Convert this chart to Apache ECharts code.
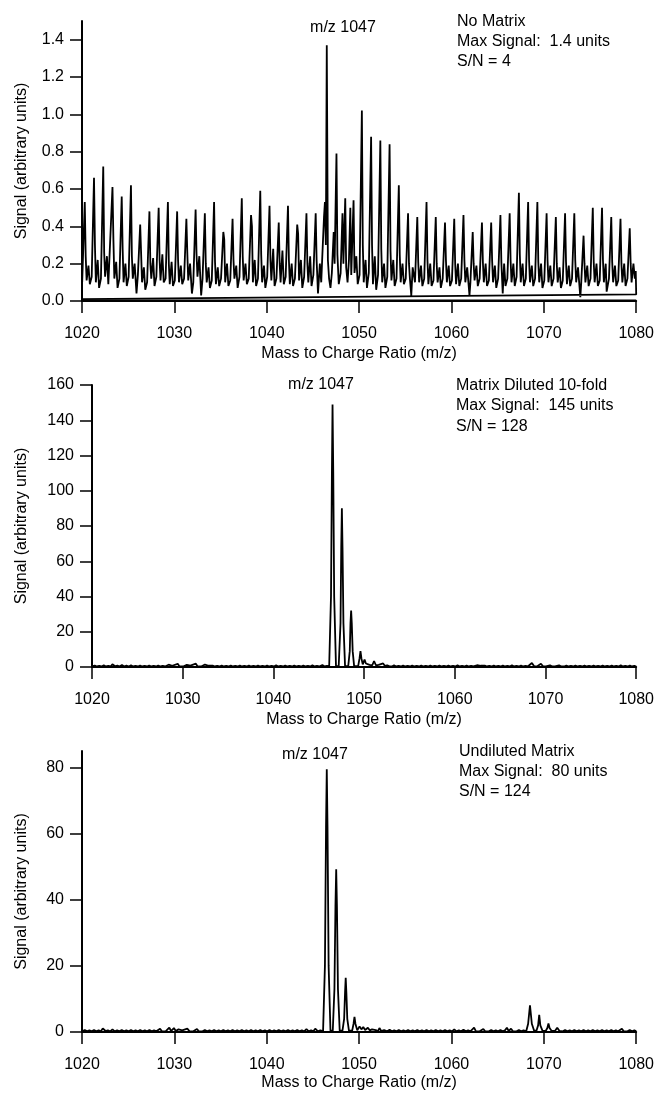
<!DOCTYPE html>
<html>
<head>
<meta charset="utf-8">
<script src="https://cdn.jsdelivr.net/npm/echarts@6/dist/echarts.min.js"></script>
<style>html,body{margin:0;padding:0;background:#fff;}#c{width:657px;height:1093px;}</style>
</head>
<body>
<div id="c"></div>
<script>
// ---------- DATA ----------
var xTicks = [1020, 1030, 1040, 1050, 1060, 1070, 1080];
var p1Ticks = [0, 0.2, 0.4, 0.6, 0.8, 1.0, 1.2, 1.4];
var p2Ticks = [0, 20, 40, 60, 80, 100, 120, 140, 160];
var p3Ticks = [0, 20, 40, 60, 80];

var p1Labels = ["m/z 1047", "No Matrix", "Max Signal:  1.4 units", "S/N = 4"];
var p2Labels = ["m/z 1047", "Matrix Diluted 10-fold", "Max Signal:  145 units", "S/N = 128"];
var p3Labels = ["m/z 1047", "Undiluted Matrix", "Max Signal:  80 units", "S/N = 124"];
var xTitle = "Mass to Charge Ratio (m/z)";
var yTitle = "Signal (arbitrary units)";

// Panel 1: No Matrix (m/z, signal)
var p1Signal = [
[1020.02,0.1],[1020.3,0.53],[1020.4,0.24],[1020.5,0.11],[1020.7,0.19],[1020.85,0.09],
[1021.05,0.13],[1021.3,0.66],[1021.4,0.3],[1021.5,0.1],[1021.7,0.22],[1021.85,0.07],
[1022.05,0.12],[1022.3,0.72],[1022.4,0.26],[1022.5,0.13],[1022.7,0.24],[1022.85,0.09],
[1023.05,0.08],[1023.3,0.61],[1023.4,0.33],[1023.5,0.12],[1023.7,0.21],[1023.85,0.07],
[1024.05,0.12],[1024.3,0.56],[1024.4,0.28],[1024.5,0.1],[1024.7,0.2],[1024.85,0.08],
[1025.05,0.13],[1025.3,0.62],[1025.4,0.24],[1025.5,0.12],[1025.7,0.2],[1025.9,0.04],
[1026.05,0.14],[1026.3,0.41],[1026.4,0.4],[1026.5,0.1],[1026.7,0.18],[1026.85,0.06],
[1027.05,0.1],[1027.3,0.48],[1027.4,0.2],[1027.5,0.12],[1027.7,0.23],[1027.85,0.08],
[1028.05,0.13],[1028.3,0.5],[1028.4,0.22],[1028.5,0.11],[1028.7,0.25],[1028.85,0.1],
[1029.05,0.12],[1029.3,0.53],[1029.4,0.2],[1029.5,0.09],[1029.7,0.21],[1029.85,0.08],
[1030.05,0.11],[1030.3,0.48],[1030.4,0.22],[1030.5,0.1],[1030.7,0.19],[1030.85,0.09],
[1031.05,0.12],[1031.3,0.44],[1031.4,0.26],[1031.5,0.11],[1031.7,0.2],[1031.9,0.04],
[1032.05,0.1],[1032.3,0.49],[1032.4,0.25],[1032.5,0.13],[1032.7,0.24],[1032.9,0.03],
[1033.05,0.12],[1033.3,0.47],[1033.4,0.2],[1033.5,0.1],[1033.7,0.18],[1033.85,0.07],
[1034.05,0.11],[1034.3,0.53],[1034.4,0.21],[1034.5,0.09],[1034.7,0.18],[1034.85,0.08],
[1035.05,0.12],[1035.3,0.37],[1035.4,0.33],[1035.5,0.1],[1035.7,0.2],[1035.85,0.08],
[1036.05,0.11],[1036.3,0.44],[1036.4,0.22],[1036.5,0.12],[1036.7,0.19],[1036.85,0.07],
[1037.05,0.13],[1037.3,0.55],[1037.4,0.24],[1037.5,0.11],[1037.7,0.2],[1037.85,0.09],
[1038.05,0.12],[1038.3,0.46],[1038.4,0.4],[1038.5,0.1],[1038.7,0.22],[1038.85,0.08],
[1039.05,0.12],[1039.3,0.59],[1039.4,0.25],[1039.5,0.1],[1039.7,0.19],[1039.85,0.07],
[1040.05,0.13],[1040.3,0.51],[1040.4,0.22],[1040.5,0.11],[1040.7,0.28],[1040.85,0.08],
[1041.05,0.12],[1041.3,0.42],[1041.4,0.2],[1041.5,0.1],[1041.7,0.27],[1041.85,0.09],
[1042.05,0.13],[1042.3,0.51],[1042.4,0.22],[1042.5,0.09],[1042.7,0.2],[1042.85,0.08],
[1043.05,0.12],[1043.3,0.41],[1043.4,0.36],[1043.5,0.11],[1043.7,0.22],[1043.85,0.07],
[1044.05,0.13],[1044.3,0.47],[1044.4,0.2],[1044.5,0.1],[1044.7,0.24],[1044.85,0.08],
[1045.05,0.14],[1045.3,0.47],[1045.4,0.22],[1045.55,0.04],[1045.75,0.2],[1045.9,0.1],
[1046.0,0.22],[1046.2,0.45],[1046.3,0.53],[1046.4,0.3],[1046.5,1.37],[1046.62,0.22],[1046.75,0.12],[1046.9,0.07],
[1047.05,0.15],[1047.25,0.37],[1047.35,0.2],[1047.55,0.79],[1047.65,0.25],[1047.8,0.09],
[1048.0,0.15],[1048.2,0.47],[1048.3,0.2],[1048.5,0.55],[1048.6,0.18],[1048.75,0.1],[1048.9,0.22],
[1049.05,0.5],[1049.15,0.14],[1049.4,0.54],[1049.5,0.15],[1049.7,0.24],[1049.85,0.09],
[1050.05,0.14],[1050.3,1.02],[1050.4,0.3],[1050.5,0.1],[1050.7,0.22],[1050.85,0.07],
[1051.05,0.15],[1051.3,0.88],[1051.4,0.3],[1051.5,0.09],[1051.7,0.24],[1051.85,0.06],
[1052.05,0.14],[1052.3,0.86],[1052.4,0.28],[1052.5,0.1],[1052.7,0.2],[1052.85,0.07],
[1053.05,0.13],[1053.3,0.84],[1053.4,0.27],[1053.5,0.11],[1053.7,0.22],[1053.85,0.08],
[1054.05,0.12],[1054.3,0.62],[1054.4,0.25],[1054.5,0.1],[1054.7,0.2],[1054.85,0.09],
[1055.05,0.12],[1055.3,0.47],[1055.4,0.2],[1055.5,0.12],[1055.65,0.03],[1055.8,0.18],
[1056.05,0.1],[1056.3,0.45],[1056.4,0.21],[1056.5,0.1],[1056.7,0.19],[1056.85,0.08],
[1057.05,0.12],[1057.3,0.53],[1057.4,0.22],[1057.5,0.09],[1057.7,0.2],[1057.85,0.08],
[1058.05,0.11],[1058.3,0.45],[1058.4,0.2],[1058.5,0.1],[1058.7,0.18],[1058.85,0.07],
[1059.05,0.12],[1059.3,0.42],[1059.4,0.22],[1059.5,0.1],[1059.7,0.19],[1059.85,0.08],
[1060.05,0.11],[1060.3,0.44],[1060.4,0.2],[1060.5,0.09],[1060.7,0.2],[1060.85,0.08],
[1061.05,0.12],[1061.3,0.46],[1061.4,0.22],[1061.5,0.1],[1061.7,0.18],[1061.95,0.03],
[1062.05,0.1],[1062.3,0.37],[1062.4,0.2],[1062.5,0.11],[1062.7,0.19],[1062.85,0.08],
[1063.05,0.12],[1063.3,0.42],[1063.4,0.21],[1063.5,0.1],[1063.7,0.2],[1063.85,0.08],
[1064.05,0.11],[1064.3,0.42],[1064.4,0.22],[1064.5,0.1],[1064.7,0.19],[1064.85,0.07],
[1065.05,0.12],[1065.3,0.46],[1065.4,0.21],[1065.55,0.04],[1065.7,0.2],[1065.85,0.08],
[1066.05,0.12],[1066.3,0.47],[1066.4,0.22],[1066.5,0.1],[1066.7,0.2],[1066.85,0.08],
[1067.05,0.13],[1067.3,0.58],[1067.4,0.25],[1067.5,0.1],[1067.7,0.2],[1067.85,0.08],
[1068.05,0.12],[1068.3,0.53],[1068.4,0.22],[1068.5,0.1],[1068.7,0.19],[1068.85,0.08],
[1069.05,0.12],[1069.3,0.53],[1069.4,0.21],[1069.5,0.1],[1069.7,0.2],[1069.85,0.07],
[1070.05,0.11],[1070.3,0.47],[1070.4,0.22],[1070.5,0.1],[1070.7,0.19],[1070.85,0.08],
[1071.05,0.12],[1071.3,0.45],[1071.4,0.2],[1071.5,0.1],[1071.7,0.18],[1071.85,0.07],
[1072.05,0.11],[1072.3,0.47],[1072.4,0.21],[1072.5,0.09],[1072.7,0.19],[1072.85,0.08],
[1073.05,0.12],[1073.3,0.47],[1073.4,0.22],[1073.5,0.1],[1073.7,0.18],[1073.95,0.02],
[1074.05,0.1],[1074.3,0.35],[1074.4,0.2],[1074.5,0.1],[1074.7,0.19],[1074.85,0.08],
[1075.05,0.12],[1075.3,0.5],[1075.4,0.21],[1075.5,0.1],[1075.7,0.2],[1075.85,0.08],
[1076.05,0.11],[1076.3,0.5],[1076.4,0.22],[1076.5,0.1],[1076.7,0.2],[1076.8,0.05],
[1077.05,0.12],[1077.3,0.45],[1077.4,0.21],[1077.5,0.1],[1077.7,0.19],[1077.85,0.08],
[1078.05,0.11],[1078.3,0.44],[1078.4,0.2],[1078.5,0.1],[1078.7,0.2],[1078.85,0.08],
[1079.05,0.12],[1079.3,0.39],[1079.4,0.2],[1079.5,0.1],[1079.7,0.2],[1079.85,0.12],[1079.95,0.16],
[1080.0,0.035],[1020.0,0.01]
];
var p1Zero = [[1020, 0.004], [1080, 0.004]];

// Panel 2: Matrix Diluted 10-fold
var p2Signal = [
[1020.0,0.3],[1020.3,0.8],[1020.55,0.3],[1020.8,0.7],
[1021.05,0.3],[1021.3,0.9],[1021.55,0.3],[1021.8,0.7],
[1022.05,0.3],[1022.25,1.5],[1022.55,0.4],[1022.8,0.8],
[1023.05,0.3],[1023.3,1.2],[1023.55,0.3],[1023.8,0.8],
[1024.05,0.3],[1024.3,0.9],[1024.55,0.3],[1024.8,0.7],
[1025.05,0.3],[1025.3,0.8],[1025.55,0.3],[1025.8,0.7],
[1026.05,0.3],[1026.3,0.8],[1026.55,0.3],[1026.8,0.7],
[1027.05,0.3],[1027.3,0.8],[1027.55,0.3],[1027.8,0.7],
[1028.05,0.3],[1028.45,1.3],[1028.65,0.3],[1028.85,0.7],
[1029.05,0.3],[1029.45,1.8],[1029.65,0.3],[1029.85,0.8],
[1030.05,0.3],[1030.45,1.2],[1030.65,0.3],[1030.85,0.8],
[1031.05,0.3],[1031.45,1.9],[1031.65,0.3],[1031.85,0.8],
[1032.05,0.3],[1032.45,1.4],[1032.65,0.3],[1032.85,0.7],
[1033.05,0.3],[1033.3,0.8],[1033.55,0.3],[1033.8,0.7],
[1034.05,0.3],[1034.3,0.8],[1034.55,0.3],[1034.8,0.7],
[1035.05,0.3],[1035.3,0.8],[1035.55,0.3],[1035.8,0.7],
[1036.05,0.3],[1036.3,0.8],[1036.55,0.3],[1036.8,0.7],
[1037.05,0.3],[1037.3,0.8],[1037.55,0.3],[1037.8,0.7],
[1038.05,0.3],[1038.3,0.8],[1038.55,0.3],[1038.8,0.7],
[1039.05,0.3],[1039.3,0.8],[1039.55,0.3],[1039.8,0.7],
[1040.05,0.3],[1040.3,0.9],[1040.55,0.3],[1040.8,0.7],
[1041.05,0.3],[1041.3,0.8],[1041.55,0.3],[1041.8,0.7],
[1042.05,0.3],[1042.3,0.8],[1042.55,0.3],[1042.8,0.7],
[1043.05,0.3],[1043.3,0.8],[1043.55,0.3],[1043.8,0.7],
[1044.05,0.3],[1044.3,0.9],[1044.55,0.3],[1044.8,0.7],
[1045.05,0.3],[1045.4,1.1],[1045.65,0.3],[1045.9,0.6],
[1046.15,0.5],[1046.35,40],[1046.45,110],[1046.52,149],[1046.6,110],[1046.7,40],[1046.9,0.5],
[1047.2,0.5],[1047.4,25],[1047.48,68],[1047.55,90],[1047.62,68],[1047.72,25],[1047.9,0.5],
[1048.25,0.5],[1048.42,9],[1048.5,25],[1048.57,32],[1048.64,25],[1048.74,9],[1048.9,0.5],
[1049.35,0.6],[1049.5,5],[1049.6,9],[1049.7,5],[1049.85,1.5],[1050.05,4.2],[1050.2,2],
[1050.4,3],[1050.6,1.2],[1050.75,2],[1050.9,1],[1051.1,3.4],[1051.3,1],[1051.6,1.2],[1051.8,0.6],
[1052.1,2],[1052.3,0.6],[1052.55,1.0],[1052.8,0.4],
[1053.05,0.3],[1053.3,0.9],[1053.55,0.3],[1053.8,0.7],
[1054.05,0.3],[1054.3,0.8],[1054.55,0.3],[1054.8,0.7],
[1055.05,0.3],[1055.3,0.8],[1055.55,0.3],[1055.8,0.7],
[1056.05,0.3],[1056.3,0.8],[1056.55,0.3],[1056.8,0.7],
[1057.05,0.3],[1057.3,0.8],[1057.55,0.3],[1057.8,0.7],
[1058.05,0.3],[1058.3,0.8],[1058.55,0.3],[1058.8,0.7],
[1059.05,0.3],[1059.3,0.8],[1059.55,0.3],[1059.8,0.7],
[1060.05,0.3],[1060.3,0.9],[1060.55,0.3],[1060.8,0.7],
[1061.05,0.3],[1061.3,0.8],[1061.55,0.3],[1061.8,0.7],
[1062.05,0.3],[1062.45,1.0],[1062.65,0.3],[1062.85,0.7],
[1063.05,0.3],[1063.3,0.8],[1063.55,0.3],[1063.8,0.7],
[1064.05,0.3],[1064.3,0.8],[1064.55,0.3],[1064.8,0.7],
[1065.05,0.3],[1065.3,0.8],[1065.55,0.3],[1065.8,0.7],
[1066.05,0.3],[1066.3,0.9],[1066.55,0.3],[1066.8,0.7],
[1067.05,0.3],[1067.3,0.8],[1067.55,0.3],[1067.8,0.7],
[1068.05,0.3],[1068.5,2.3],[1068.75,0.4],[1068.9,0.7],
[1069.05,0.3],[1069.5,1.8],[1069.75,0.3],[1069.9,0.6],
[1070.05,0.3],[1070.5,1.0],[1070.75,0.3],[1070.9,0.6],
[1071.05,0.3],[1071.5,0.9],[1071.75,0.3],[1071.9,0.6],
[1072.05,0.3],[1072.3,0.8],[1072.55,0.3],[1072.8,0.7],
[1073.05,0.3],[1073.3,0.8],[1073.55,0.3],[1073.8,0.7],
[1074.05,0.3],[1074.3,0.8],[1074.55,0.3],[1074.8,0.7],
[1075.05,0.3],[1075.3,0.8],[1075.55,0.3],[1075.8,0.7],
[1076.05,0.3],[1076.3,0.8],[1076.55,0.3],[1076.8,0.7],
[1077.05,0.3],[1077.3,0.8],[1077.55,0.3],[1077.8,0.7],
[1078.05,0.3],[1078.3,0.9],[1078.55,0.3],[1078.8,0.7],
[1079.05,0.3],[1079.3,0.8],[1079.55,0.3],[1079.8,0.7],[1080.0,0.3]
];

// Panel 3: Undiluted Matrix
var p3Signal = [
[1020.0,0.2],[1020.3,0.6],[1020.55,0.2],[1020.8,0.5],
[1021.05,0.2],[1021.3,0.6],[1021.55,0.2],[1021.8,0.5],
[1022.05,0.2],[1022.25,1.1],[1022.55,0.3],[1022.8,0.5],
[1023.05,0.2],[1023.3,0.8],[1023.55,0.2],[1023.8,0.5],
[1024.05,0.2],[1024.3,0.6],[1024.55,0.2],[1024.8,0.5],
[1025.05,0.2],[1025.3,0.6],[1025.55,0.2],[1025.8,0.5],
[1026.05,0.2],[1026.3,0.6],[1026.55,0.2],[1026.8,0.5],
[1027.05,0.2],[1027.3,0.6],[1027.55,0.2],[1027.8,0.5],
[1028.05,0.2],[1028.45,1.0],[1028.65,0.2],[1028.85,0.5],
[1029.05,0.2],[1029.45,1.3],[1029.65,0.3],[1029.95,1.2],
[1030.15,0.3],[1030.45,0.8],[1030.65,0.2],[1030.85,0.5],
[1031.05,0.2],[1031.4,1.0],[1031.65,0.2],[1031.85,0.5],
[1032.05,0.2],[1032.45,0.9],[1032.65,0.2],[1032.85,0.5],
[1033.05,0.2],[1033.3,0.6],[1033.55,0.2],[1033.8,0.5],
[1034.05,0.2],[1034.3,0.6],[1034.55,0.2],[1034.8,0.5],
[1035.05,0.2],[1035.3,0.6],[1035.55,0.2],[1035.8,0.5],
[1036.05,0.2],[1036.3,0.6],[1036.55,0.2],[1036.8,0.5],
[1037.05,0.2],[1037.3,0.6],[1037.55,0.2],[1037.8,0.5],
[1038.05,0.2],[1038.3,0.6],[1038.55,0.2],[1038.8,0.5],
[1039.05,0.2],[1039.3,0.6],[1039.55,0.2],[1039.8,0.5],
[1040.05,0.2],[1040.3,0.6],[1040.55,0.2],[1040.8,0.5],
[1041.05,0.2],[1041.3,0.6],[1041.55,0.2],[1041.8,0.5],
[1042.05,0.2],[1042.3,0.6],[1042.55,0.2],[1042.8,0.5],
[1043.05,0.2],[1043.3,0.6],[1043.55,0.2],[1043.8,0.5],
[1044.05,0.2],[1044.3,0.9],[1044.55,0.2],[1044.8,0.5],
[1045.05,0.2],[1045.25,1.0],[1045.55,0.2],[1045.8,0.5],
[1046.1,0.3],[1046.3,20],[1046.42,62],[1046.5,79.5],[1046.58,62],[1046.7,20],[1046.9,0.4],
[1047.15,0.4],[1047.33,13],[1047.44,38],[1047.52,49.2],[1047.6,38],[1047.71,13],[1047.9,0.4],
[1048.2,0.4],[1048.38,4],[1048.48,12],[1048.55,16.4],[1048.62,12],[1048.72,4],[1048.9,0.4],
[1049.25,0.4],[1049.4,2.5],[1049.5,4.6],[1049.6,2.5],[1049.8,0.5],
[1050.05,1.7],[1050.25,0.8],[1050.45,1.5],[1050.65,0.6],[1050.95,1.3],[1051.15,0.5],[1051.4,0.8],
[1051.6,0.3],[1051.8,0.6],[1052.05,0.3],[1052.2,1.2],[1052.4,0.3],[1052.7,0.6],
[1053.05,0.2],[1053.3,0.7],[1053.55,0.2],[1053.8,0.5],
[1054.05,0.2],[1054.3,0.6],[1054.55,0.2],[1054.8,0.5],
[1055.05,0.2],[1055.3,0.6],[1055.55,0.2],[1055.8,0.5],
[1056.05,0.2],[1056.3,0.6],[1056.55,0.2],[1056.8,0.5],
[1057.05,0.2],[1057.3,0.6],[1057.55,0.2],[1057.8,0.5],
[1058.05,0.2],[1058.3,0.6],[1058.55,0.2],[1058.8,0.5],
[1059.05,0.2],[1059.3,0.6],[1059.55,0.2],[1059.8,0.5],
[1060.05,0.2],[1060.3,0.8],[1060.55,0.2],[1060.8,0.5],
[1061.05,0.2],[1061.3,0.7],[1061.55,0.2],[1061.8,0.5],
[1062.05,0.2],[1062.45,1.3],[1062.65,0.2],[1062.85,0.5],
[1063.05,0.2],[1063.45,0.9],[1063.65,0.2],[1063.85,0.5],
[1064.05,0.2],[1064.3,0.6],[1064.55,0.2],[1064.8,0.5],
[1065.05,0.2],[1065.3,0.6],[1065.55,0.2],[1065.8,0.5],
[1066.0,1.3],[1066.2,0.3],[1066.45,1.0],[1066.65,0.2],[1066.85,0.6],
[1067.05,0.2],[1067.3,0.6],[1067.55,0.2],[1067.8,0.5],
[1068.1,0.3],[1068.3,2.5],[1068.5,8.1],[1068.7,2.5],[1068.95,0.4],
[1069.2,0.4],[1069.38,2],[1069.5,5.2],[1069.62,2],[1069.85,0.4],
[1070.2,0.3],[1070.38,1.2],[1070.5,2.6],[1070.62,1.2],[1070.85,0.3],
[1071.2,0.3],[1071.45,1.3],[1071.7,0.3],[1071.9,0.5],
[1072.05,0.2],[1072.3,0.6],[1072.55,0.2],[1072.8,0.5],
[1073.05,0.2],[1073.3,0.6],[1073.55,0.2],[1073.8,0.5],
[1074.05,0.2],[1074.3,0.6],[1074.55,0.2],[1074.8,0.5],
[1075.05,0.2],[1075.3,0.6],[1075.55,0.2],[1075.8,0.5],
[1076.05,0.2],[1076.3,0.6],[1076.55,0.2],[1076.8,0.5],
[1077.05,0.2],[1077.3,0.6],[1077.55,0.2],[1077.8,0.5],
[1078.05,0.2],[1078.45,1.0],[1078.65,0.2],[1078.85,0.5],
[1079.05,0.2],[1079.3,0.6],[1079.55,0.2],[1079.8,0.5],[1080.0,0.2]
];

// ---------- CHART ----------
var FONT = '"Liberation Sans", Arial, Helvetica, sans-serif';
var chart = echarts.init(document.getElementById('c'), null, {renderer: 'canvas'});

function xAxisCfg(idx, gap) {
  return {
    type: 'value', gridIndex: idx, min: 1020, max: 1080, interval: 10,
    name: xTitle, nameLocation: 'middle', nameGap: gap,
    nameTextStyle: {fontFamily: FONT, fontSize: 16, color: '#000'},
    axisLine: {show: true, onZero: false, lineStyle: {color: '#000', width: 2}},
    axisTick: {show: true, inside: false, length: 12, lineStyle: {color: '#000', width: 1.5}, customValues: xTicks},
    axisLabel: {fontFamily: FONT, fontSize: 16, color: '#000', margin: 25, customValues: xTicks,
      formatter: function (v) { return String(v); }},
    splitLine: {show: false}
  };
}
function yAxisCfg(idx, max, ticks, gap, dec) {
  return {
    type: 'value', gridIndex: idx, min: 0, max: max,
    name: yTitle, nameLocation: 'middle', nameGap: gap,
    nameTextStyle: {fontFamily: FONT, fontSize: 16, color: '#000'},
    axisLine: {show: true, onZero: false, lineStyle: {color: '#000', width: 2}},
    axisTick: {show: true, inside: false, length: 12, lineStyle: {color: '#000', width: 1.5}, customValues: ticks},
    axisLabel: {fontFamily: FONT, fontSize: 16, color: '#000', margin: 18, customValues: ticks,
      formatter: function (v) { return dec ? v.toFixed(1) : String(v); }},
    splitLine: {show: false}
  };
}
function lineSeries(idx, data, w) {
  return {type: 'line', xAxisIndex: idx, yAxisIndex: idx, data: data, showSymbol: false, symbol: 'none',
    lineStyle: {color: '#000', width: w}, animation: false, silent: true, clip: true};
}
function txt(x, y, s, align) {
  return {type: 'text', x: x, y: y, silent: true,
    style: {text: s, fontFamily: FONT, fontSize: 16, fill: '#000', align: align, verticalAlign: 'middle'}};
}

var option = {
  backgroundColor: '#fff',
  animation: false,
  grid: [
    {left: 82, width: 555, top: 21, height: 280},
    {left: 92, width: 546, top: 385, height: 282},
    {left: 82, width: 555, top: 751, height: 281}
  ],
  xAxis: [xAxisCfg(0, 45), xAxisCfg(1, 45), xAxisCfg(2, 43)],
  yAxis: [
    yAxisCfg(0, 1.5, p1Ticks, 52, true),
    yAxisCfg(1, 160, p2Ticks, 62, false),
    yAxisCfg(2, 85, p3Ticks, 52, false)
  ],
  series: [
    lineSeries(0, p1Signal, 1.8),
    lineSeries(0, p1Zero, 1.5),
    lineSeries(1, p2Signal, 1.8),
    lineSeries(2, p3Signal, 1.8)
  ],
  graphic: [
    txt(343, 28, p1Labels[0], 'center'),
    txt(457, 22, p1Labels[1], 'left'),
    txt(457, 42, p1Labels[2], 'left'),
    txt(457, 62, p1Labels[3], 'left'),
    txt(321, 385, p2Labels[0], 'center'),
    txt(456, 386, p2Labels[1], 'left'),
    txt(456, 406, p2Labels[2], 'left'),
    txt(456, 427, p2Labels[3], 'left'),
    txt(315, 755, p3Labels[0], 'center'),
    txt(459, 752, p3Labels[1], 'left'),
    txt(459, 772, p3Labels[2], 'left'),
    txt(459, 792, p3Labels[3], 'left')
  ]
};
chart.setOption(option);
</script>
</body>
</html>
